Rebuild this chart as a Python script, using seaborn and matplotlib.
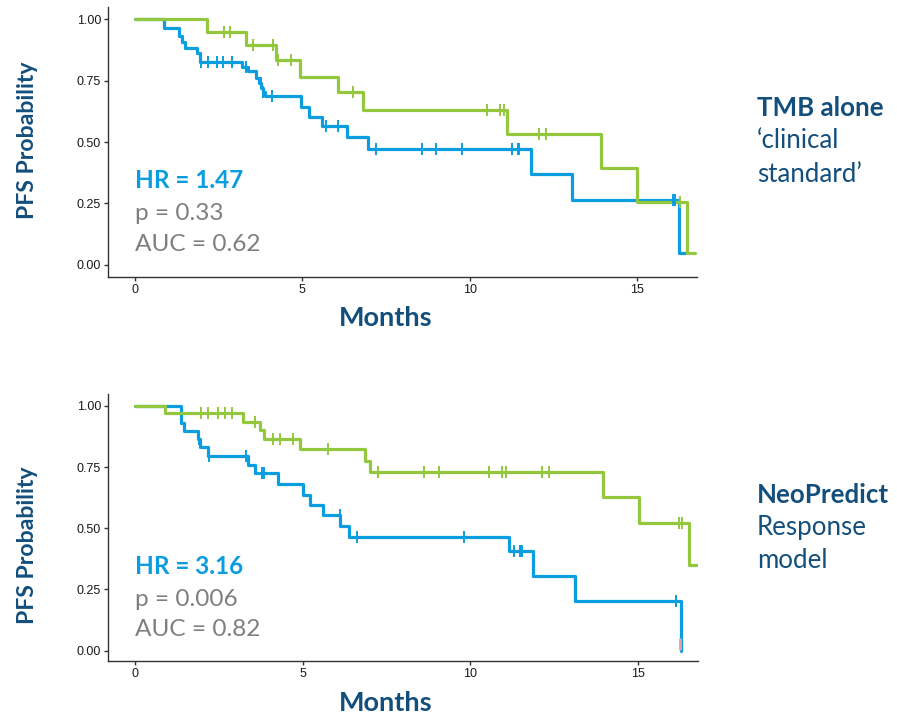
import numpy as np
import pandas as pd
import seaborn as sns
import matplotlib.pyplot as plt

sns.set_theme(style='ticks')
plt.rcParams['font.family'] = ['Lato', 'DejaVu Sans']

BLUE = '#0a9ee0'
GREEN = '#93c83e'
NAVY = '#134f7d'
GREY = '#7f7f7f'

# TMB alone (top panel)
tmb_high_t = [0, 2.17, 3.31, 4.21, 4.92, 6.07, 6.82, 11.13, 13.92, 15.0, 16.48, 16.74]
tmb_high_s = [1.0, 0.946, 0.894, 0.833, 0.766, 0.702, 0.630, 0.531, 0.393, 0.257, 0.05, 0.05]
tmb_high_cens = [2.67, 2.85, 3.54, 4.12, 4.29, 4.67, 6.51, 10.51, 10.91, 11.03, 12.06, 12.29, 16.27]

tmb_low_t = [0, 0.87, 1.33, 1.40, 1.50, 1.85, 1.95, 3.21, 3.39, 3.62, 3.70, 3.78, 3.84, 3.90,
             4.97, 5.19, 5.59, 6.34, 6.97, 11.83, 13.07, 16.24, 16.42]
tmb_low_s = [1.0, 0.965, 0.93, 0.908, 0.883, 0.86, 0.826, 0.806, 0.789, 0.759, 0.738, 0.72, 0.705, 0.687,
             0.644, 0.603, 0.565, 0.522, 0.473, 0.37, 0.264, 0.05, 0.05]
tmb_low_cens = [1.98, 2.20, 2.46, 2.62, 2.89, 3.31, 3.77, 3.84, 4.11, 5.72, 6.06, 7.21, 8.58, 9.0, 9.76,
                11.26, 11.43, 11.48, 16.07, 16.12]

# NeoPredict (bottom panel)
neo_high_t = [0, 0.89, 3.23, 3.73, 3.85, 4.94, 6.86, 7.0, 13.97, 15.03, 16.53, 16.85]
neo_high_s = [1.0, 0.969, 0.935, 0.901, 0.863, 0.822, 0.774, 0.731, 0.626, 0.522, 0.35, 0.35]
neo_high_cens = [1.96, 2.19, 2.48, 2.68, 2.91, 3.58, 4.13, 4.32, 4.71, 5.76, 7.25, 8.63, 9.07, 10.57,
                 10.94, 11.07, 12.13, 12.34, 16.23, 16.32]

neo_low_t = [0, 1.37, 1.47, 1.87, 1.95, 2.18, 3.37, 3.57, 4.27, 5.02, 5.22, 5.62, 6.13, 6.38,
             11.17, 11.88, 13.12, 16.30]
neo_low_s = [1.0, 0.928, 0.898, 0.863, 0.830, 0.796, 0.758, 0.724, 0.679, 0.636, 0.595, 0.554, 0.509, 0.465,
             0.407, 0.306, 0.204, 0.0]
neo_low_cens = [1.92, 2.22, 3.32, 3.79, 3.86, 6.12, 6.63, 9.82, 11.32, 11.49, 11.54, 16.13]

neo_extra_t = [16.27]
neo_extra_lo = [0.003]
neo_extra_hi = [0.05]

XTICKS = [0, 5, 10, 15]
YTICKS = [0.0, 0.25, 0.5, 0.75, 1.0]


def surv_at(times, surv, t):
    idx = np.searchsorted(times, t, side='right') - 1
    return np.asarray(surv)[idx]


def draw_curve(ax, times, surv, cens, color):
    df = pd.DataFrame({'t': times, 's': surv})
    sns.lineplot(data=df, x='t', y='s', ax=ax, color=color, linewidth=2.3,
                 drawstyle='steps-post', estimator=None, sort=False)
    cdf = pd.DataFrame({'t': cens, 's': surv_at(times, surv, cens)})
    sns.scatterplot(data=cdf, x='t', y='s', ax=ax, color=color, marker='|',
                    s=70, linewidth=1.4, zorder=4)


def style_axes(ax, ylim):
    ax.set_xlim(-0.8, 16.8)
    ax.set_ylim(*ylim)
    ax.set_xticks(XTICKS)
    ax.set_yticks(YTICKS)
    ax.set_yticklabels(['{:.2f}'.format(v) for v in YTICKS])
    for lab in ax.get_xticklabels() + ax.get_yticklabels():
        lab.set_fontfamily('Liberation Sans')
        lab.set_fontsize(9)
        lab.set_color('#1a1a1a')
    ax.tick_params(length=3, width=1, color='#333333', pad=2)
    sns.despine(ax=ax)
    for sp in ['left', 'bottom']:
        ax.spines[sp].set_color('#333333')
        ax.spines[sp].set_linewidth(1.0)
    ax.set_xlabel('')
    ax.set_ylabel('')


fig = plt.figure(figsize=(8.97, 7.21), dpi=100)
ax1 = fig.add_axes([0.1204, 0.6158, 0.657, 0.3745])
ax2 = fig.add_axes([0.1204, 0.0832, 0.658, 0.3703])

draw_curve(ax1, tmb_low_t, tmb_low_s, tmb_low_cens, BLUE)
draw_curve(ax1, tmb_high_t, tmb_high_s, tmb_high_cens, GREEN)
style_axes(ax1, (-0.049, 1.049))

draw_curve(ax2, neo_low_t, neo_low_s, neo_low_cens, BLUE)
draw_curve(ax2, neo_high_t, neo_high_s, neo_high_cens, GREEN)
ax2.vlines(neo_extra_t, neo_extra_lo, neo_extra_hi, color='#e8a0a0', linewidth=2, zorder=3)
style_axes(ax2, (-0.042, 1.048))

# stats text
for ax, hr, p, auc in [(ax1, 'HR = 1.47', 'p = 0.33', 'AUC = 0.62'),
                       (ax2, 'HR = 3.16', 'p = 0.006', 'AUC = 0.82')]:
    ax.text(0.02, 0.345, hr, transform=ax.transData, color=BLUE, fontsize=17.6,
            fontweight='bold', va='center', ha='left')
    ax.text(0.02, 0.21, p, transform=ax.transData, color=GREY, fontsize=17.6,
            va='center', ha='left')
    ax.text(0.02, 0.085, auc, transform=ax.transData, color=GREY, fontsize=17.6,
            va='center', ha='left')

# axis titles
fig.text(28 / 897, 1 - 140 / 721, 'PFS Probability', rotation=90, color=NAVY,
         fontsize=16.6, fontweight='bold', ha='center', va='center')
fig.text(28 / 897, 1 - 545 / 721, 'PFS Probability', rotation=90, color=NAVY,
         fontsize=16.6, fontweight='bold', ha='center', va='center')
fig.text(386 / 897, 1 - 318 / 721, 'Months', color=NAVY, fontsize=19.5,
         fontweight='bold', ha='center', va='center')
fig.text(386 / 897, 1 - 703 / 721, 'Months', color=NAVY, fontsize=19.5,
         fontweight='bold', ha='center', va='center')

# side labels
fig.text(757 / 897, 1 - 108 / 721, 'TMB alone', color=NAVY, fontsize=18.6,
         fontweight='bold', ha='left', va='center')
fig.text(757 / 897, 1 - 141 / 721, '\u2018clinical', color=NAVY, fontsize=18.6,
         ha='left', va='center')
fig.text(757 / 897, 1 - 174 / 721, 'standard\u2019', color=NAVY, fontsize=18.6,
         ha='left', va='center')
fig.text(757 / 897, 1 - 495 / 721, 'NeoPredict', color=NAVY, fontsize=18.6,
         fontweight='bold', ha='left', va='center')
fig.text(757 / 897, 1 - 528 / 721, 'Response', color=NAVY, fontsize=18.6,
         ha='left', va='center')
fig.text(757 / 897, 1 - 561 / 721, 'model', color=NAVY, fontsize=18.6,
         ha='left', va='center')

fig.savefig('out.png', dpi=100)
